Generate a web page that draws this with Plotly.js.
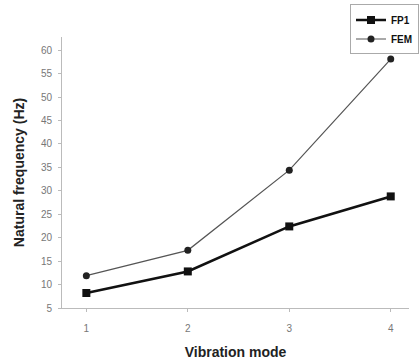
<!DOCTYPE html>
<html>
<head>
<meta charset="utf-8">
<script src="https://cdn.plot.ly/plotly-3.0.1.min.js"></script>
<style>html,body{margin:0;padding:0;background:#fff;}#chart{width:419px;height:360px;}</style>
</head>
<body>
<div id="chart"></div>
<script>
const modes = [1, 2, 3, 4];
const fp1 = [8.2, 12.8, 22.4, 28.8];
const fem = [11.9, 17.3, 34.4, 58.1];
const yTicks = [5, 10, 15, 20, 25, 30, 35, 40, 45, 50, 55, 60];
const xTicks = [1, 2, 3, 4];

const traces = [
  {x: modes, y: fp1, name: 'FP1', mode: 'lines+markers', type: 'scatter',
   line: {color: '#111', width: 2.6}, marker: {symbol: 'square', size: 8, color: '#111'}},
  {x: modes, y: fem, name: 'FEM', mode: 'lines+markers', type: 'scatter',
   line: {color: '#555', width: 1.2}, marker: {symbol: 'circle', size: 7, color: '#222'}}
];

const layout = {
  width: 419, height: 360,
  margin: {l: 62, r: 0, t: 37, b: 52},
  paper_bgcolor: '#fff', plot_bgcolor: '#fff',
  font: {family: 'Liberation Sans, Arial, sans-serif', color: '#333'},
  showlegend: true,
  legend: {x: 0.83, y: 1.12, xanchor: 'left', yanchor: 'top',
           bordercolor: '#aaa', borderwidth: 1, bgcolor: '#fff',
           font: {size: 10, color: '#111', family: 'Liberation Sans, Arial, sans-serif', weight: 'bold'},
           tracegroupgap: 0, itemwidth: 30},
  xaxis: {range: [0.76, 4.18], tickvals: xTicks, ticktext: xTicks.map(String),
          showgrid: false, zeroline: false, showline: true, linecolor: '#bbb', linewidth: 1,
          ticks: 'outside', ticklen: 3, tickcolor: '#bbb', ticklabelstandoff: 8,
          tickfont: {size: 10, color: '#777'},
          title: {text: '<b>Vibration mode</b>', font: {size: 14, color: '#222'}, standoff: 14}},
  yaxis: {range: [5, 62.8], tickvals: yTicks, ticktext: yTicks.map(String),
          showgrid: false, zeroline: false, showline: true, linecolor: '#bbb', linewidth: 1,
          ticks: 'outside', ticklen: 3, tickcolor: '#bbb', ticklabelstandoff: 4,
          tickfont: {size: 10, color: '#777'},
          title: {text: '<b>Natural frequency (Hz)</b>', font: {size: 14, color: '#222'}, standoff: 12}}
};

Plotly.newPlot('chart', traces, layout, {displayModeBar: false, staticPlot: true});
</script>
</body>
</html>
